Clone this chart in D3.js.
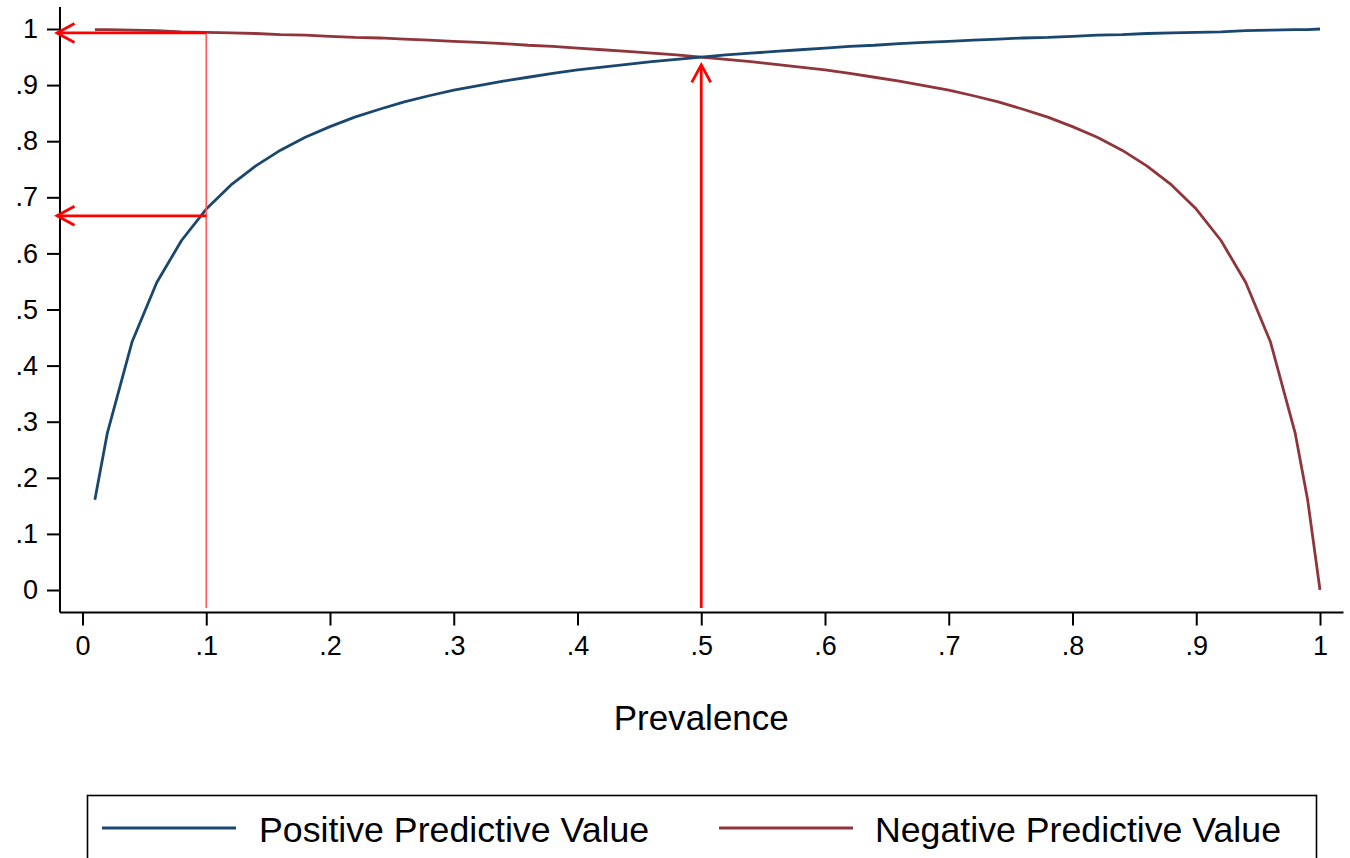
<!DOCTYPE html>
<html>
<head>
<meta charset="utf-8">
<script src="https://cdn.jsdelivr.net/npm/d3@7/dist/d3.min.js"></script>
<style>
  html, body { margin: 0; padding: 0; background: #fff; }
  svg { display: block; font-family: "Liberation Sans", Arial, Helvetica, sans-serif; }
</style>
</head>
<body>
<svg id="chart" width="1350" height="858"></svg>
<script>
// Prevalence grid and predictive values
const prevalence = [0.01, 0.02, 0.04, 0.06, 0.08, 0.10, 0.12, 0.14, 0.16, 0.18,
  0.20, 0.22, 0.24, 0.26, 0.28, 0.30, 0.32, 0.34, 0.36, 0.38,
  0.40, 0.42, 0.44, 0.46, 0.48, 0.50, 0.52, 0.54, 0.56, 0.58,
  0.60, 0.62, 0.64, 0.66, 0.68, 0.70, 0.72, 0.74, 0.76, 0.78,
  0.80, 0.82, 0.84, 0.86, 0.88, 0.90, 0.92, 0.94, 0.96, 0.98, 0.99, 1.00];

const ppv = [0.161, 0.279, 0.442, 0.548, 0.623, 0.679, 0.722, 0.756, 0.784, 0.807,
  0.826, 0.843, 0.857, 0.870, 0.881, 0.891, 0.899, 0.907, 0.914, 0.921,
  0.927, 0.932, 0.937, 0.942, 0.946, 0.950, 0.954, 0.957, 0.960, 0.963,
  0.966, 0.969, 0.971, 0.974, 0.976, 0.978, 0.980, 0.982, 0.984, 0.985,
  0.987, 0.989, 0.990, 0.992, 0.993, 0.994, 0.995, 0.997, 0.998, 0.999, 0.999, 1.000];

const npv = [0.999, 0.999, 0.998, 0.997, 0.995, 0.994, 0.993, 0.992, 0.990, 0.989,
  0.987, 0.985, 0.984, 0.982, 0.980, 0.978, 0.976, 0.974, 0.971, 0.969,
  0.966, 0.963, 0.960, 0.957, 0.954, 0.950, 0.946, 0.942, 0.937, 0.932,
  0.927, 0.921, 0.914, 0.907, 0.899, 0.891, 0.881, 0.870, 0.857, 0.843,
  0.826, 0.807, 0.784, 0.756, 0.722, 0.679, 0.623, 0.548, 0.442, 0.279, 0.161, 0.000];

const seriesNames = ["Positive Predictive Value", "Negative Predictive Value"];

const xTicks = [0, 0.1, 0.2, 0.3, 0.4, 0.5, 0.6, 0.7, 0.8, 0.9, 1];
const yTicks = [0, 0.1, 0.2, 0.3, 0.4, 0.5, 0.6, 0.7, 0.8, 0.9, 1];

// Annotation arrows (data units): reading values off the curves
const arrowLines = [
  { x1: 0.1, y1: 0.993, x2: -0.0206, y2: 0.993 },
  { x1: 0.1, y1: 0.667, x2: -0.0206, y2: 0.667 },
  { x1: 0.5, y1: -0.032, x2: 0.5, y2: 0.936 }
];
const guideLines = [
  { x1: 0.1, y1: 0.993, x2: 0.1, y2: -0.032 }
];

const colors = { ppv: "#1a476f", npv: "#90353b", arrow: "#ff0000", guide: "#ff5a5a" };

const svg = d3.select("#chart");

const x = d3.scaleLinear().domain([0, 1]).range([82.5, 1320]);
const y = d3.scaleLinear().domain([0, 1]).range([590, 29]);

// plot region extents
const xExt = [-0.0182, 1.019];
const yExt = [-0.0402, 1.0392];

const tickFmt = d => (d === 0 ? "0" : d === 1 ? "1" : d3.format(".1f")(d).replace(/^0/, ""));

// X axis
const xAxis = svg.append("g")
  .attr("transform", `translate(0,${y(yExt[0])})`)
  .call(d3.axisBottom(x).tickValues(xTicks).tickFormat(tickFmt).tickSize(13).tickPadding(10));
xAxis.select(".domain").remove();
xAxis.selectAll(".tick line").attr("stroke", "#000").attr("stroke-width", 2);
xAxis.selectAll(".tick text").attr("font-size", 27).attr("fill", "#000")
  .attr("font-family", "Liberation Sans, Arial, sans-serif");
svg.append("line")
  .attr("x1", x(xExt[0])).attr("x2", x(xExt[1]))
  .attr("y1", y(yExt[0])).attr("y2", y(yExt[0]))
  .attr("stroke", "#000").attr("stroke-width", 2);

// Y axis
const yAxis = svg.append("g")
  .attr("transform", `translate(${x(xExt[0])},0)`)
  .call(d3.axisLeft(y).tickValues(yTicks).tickFormat(tickFmt).tickSize(13).tickPadding(9));
yAxis.select(".domain").remove();
yAxis.selectAll(".tick line").attr("stroke", "#000").attr("stroke-width", 2);
yAxis.selectAll(".tick text").attr("font-size", 27).attr("fill", "#000")
  .attr("font-family", "Liberation Sans, Arial, sans-serif");
svg.append("line")
  .attr("x1", x(xExt[0])).attr("x2", x(xExt[0]))
  .attr("y1", y(yExt[0])).attr("y2", y(yExt[1]))
  .attr("stroke", "#000").attr("stroke-width", 2);

// Axis title
svg.append("text")
  .attr("x", x(0.5)).attr("y", 730)
  .attr("text-anchor", "middle")
  .attr("font-size", 35)
  .text("Prevalence");

// Curves
const line = d3.line().x(d => x(d[0])).y(d => y(d[1]));
const ppvPts = prevalence.map((p, i) => [p, ppv[i]]);
const npvPts = prevalence.map((p, i) => [p, npv[i]]);

svg.append("path").datum(npvPts)
  .attr("d", line).attr("fill", "none")
  .attr("stroke", colors.npv).attr("stroke-width", 2.8).attr("stroke-linejoin", "round");
svg.append("path").datum(ppvPts)
  .attr("d", line).attr("fill", "none")
  .attr("stroke", colors.ppv).attr("stroke-width", 2.8).attr("stroke-linejoin", "round");

// Red guide line and arrows
svg.selectAll(".guide").data(guideLines).enter().append("line")
  .attr("class", "guide")
  .attr("x1", d => x(d.x1)).attr("y1", d => y(d.y1))
  .attr("x2", d => x(d.x2)).attr("y2", d => y(d.y2))
  .attr("stroke", colors.guide).attr("stroke-width", 1.6);

const headLen = 17.5, headHalf = 9.5;
arrowLines.forEach(a => {
  const sx = x(a.x1), sy = y(a.y1), ex = x(a.x2), ey = y(a.y2);
  const dx = ex - sx, dy = ey - sy, len = Math.hypot(dx, dy);
  const ux = dx / len, uy = dy / len;
  const bx = ex - ux * headLen, by = ey - uy * headLen;
  svg.append("line")
    .attr("x1", sx).attr("y1", sy).attr("x2", ex).attr("y2", ey)
    .attr("stroke", colors.arrow).attr("stroke-width", 2.8);
  svg.append("path")
    .attr("d", `M${bx - uy * headHalf},${by + ux * headHalf}L${ex},${ey}L${bx + uy * headHalf},${by - ux * headHalf}`)
    .attr("fill", "none").attr("stroke", colors.arrow).attr("stroke-width", 2.8)
    .attr("stroke-linejoin", "miter");
});

// Legend
svg.append("rect")
  .attr("x", 87.5).attr("y", 795.5).attr("width", 1229).attr("height", 120)
  .attr("fill", "#fff").attr("stroke", "#000").attr("stroke-width", 1.6);

const legendItems = [
  { name: seriesNames[0], color: colors.ppv, lx: 102, tx: 259 },
  { name: seriesNames[1], color: colors.npv, lx: 719, tx: 875 }
];
const lg = svg.selectAll(".legend-item").data(legendItems).enter().append("g")
  .attr("class", "legend-item");
lg.append("line")
  .attr("x1", d => d.lx).attr("x2", d => d.lx + 134)
  .attr("y1", 828).attr("y2", 828)
  .attr("stroke", d => d.color).attr("stroke-width", 2.8);
lg.append("text")
  .attr("x", d => d.tx).attr("y", 841.5)
  .attr("font-size", 35.7)
  .text(d => d.name);
</script>
</body>
</html>
